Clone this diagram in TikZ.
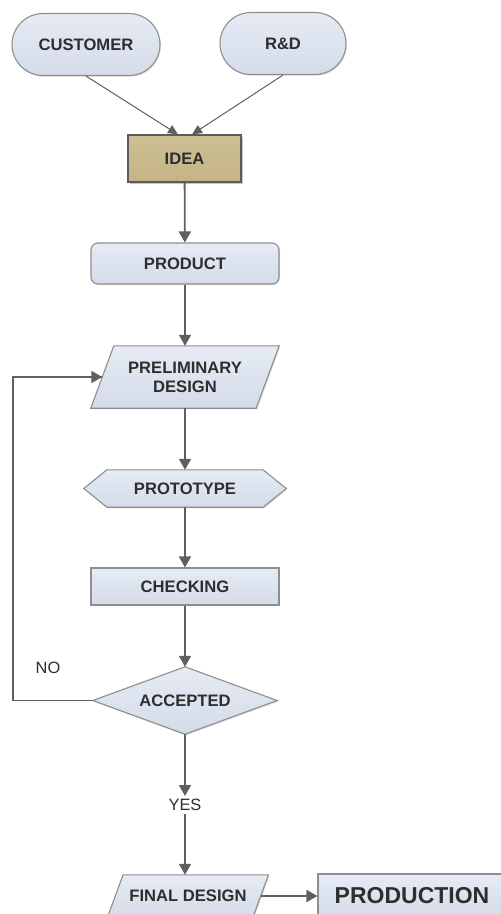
\documentclass[tikz,border=0pt]{standalone}
\usepackage{fontspec}
\setmainfont{Liberation Sans}
\usetikzlibrary{arrows.meta,shadows,backgrounds}

\definecolor{boxtop}{HTML}{E6EBF4}
\definecolor{boxbot}{HTML}{D4DCE9}
\definecolor{boxline}{HTML}{8E8E8E}
\definecolor{ideatop}{HTML}{CFC196}
\definecolor{ideabot}{HTML}{C3B384}
\definecolor{ideaedge}{HTML}{5C5C5C}
\definecolor{wire}{HTML}{5F5F5F}
\definecolor{ink}{HTML}{2E2E2E}

\begin{document}
\begin{tikzpicture}[x=1pt,y=-1pt,
  lbl/.style={font=\fontsize{16.6}{19}\selectfont\bfseries, text=ink, align=center, inner sep=0pt},
  plain/.style={font=\fontsize{16.4}{19}\selectfont, text=ink, inner sep=3pt},
  skin/.style={top color=boxtop, bottom color=boxbot, draw=boxline, line width=1.1pt,
    drop shadow={shadow xshift=1pt, shadow yshift=-1.2pt, opacity=0.25}},
  stadium/.style={lbl, skin, rectangle, minimum width=#1, minimum height=62pt, rounded corners=31pt},
  roundbox/.style={lbl, skin, rectangle, minimum width=188pt, minimum height=41pt, rounded corners=7pt},
  sqbox/.style={lbl, skin, rectangle, minimum width=188pt, minimum height=#1},
  ideabox/.style={lbl, rectangle, top color=ideatop, bottom color=ideabot, draw=ideaedge,
    line width=1.1pt, minimum width=113pt, minimum height=47pt,
    drop shadow={shadow xshift=1.5pt, shadow yshift=-1.5pt, opacity=0.45}},
  frame/.style={lbl, rectangle, minimum width=#1},
  flow/.style={draw=wire, line width=1.8pt, -{Triangle[length=11pt, width=12pt]}},
  thinflow/.style={draw=wire, line width=1pt, -{Triangle[length=10pt, width=9pt]}},
  loopline/.style={draw=wire, line width=1.8pt}
]
\useasboundingbox (0,0) rectangle (501,914);
\clip (0,0) rectangle (501,914);

% sources and idea
\node[stadium=148pt] (cust) at (86,44.5) {CUSTOMER};
\node[stadium=126pt] (rd) at (283,43.5) {R\&D};
\node[ideabox] (idea) at (184.5,158.5) {IDEA};

% main chain
\node[roundbox] (prod) at (185,263.5) {PRODUCT};
\node[frame=165pt, minimum height=62pt] (pre) at (185,377) {PRELIMINARY\\DESIGN};
\node[frame=202pt, minimum height=37pt] (proto) at (185,488.5) {PROTOTYPE};
\node[sqbox=37pt] (chk) at (185,586.5) {CHECKING};
\node[frame=184pt, minimum height=67pt] (acc) at (185,700.5) {ACCEPTED};
\node[plain] (yes) at (185,805) {YES};
\node[plain] (no) at (48,668) {NO};
\node[frame=145pt, minimum height=42pt] (fin) at (188,896) {FINAL DESIGN};
\node[sqbox=44pt, font=\fontsize{23}{26}\selectfont\bfseries] (out) at (412,896) {PRODUCTION};

% outlines of the non-rectangular shapes
\begin{scope}[on background layer]
  \path[skin] ([xshift=11.5pt]pre.north west) -- ([xshift=11.5pt]pre.north east)
    -- ([xshift=-11.5pt]pre.south east) -- ([xshift=-11.5pt]pre.south west) -- cycle;
  \path[skin] (proto.west) -- ([xshift=23pt]proto.north west) -- ([xshift=-23pt]proto.north east)
    -- (proto.east) -- ([xshift=-23pt]proto.south east) -- ([xshift=23pt]proto.south west) -- cycle;
  \path[skin] (acc.north) -- (acc.east) -- (acc.south) -- (acc.west) -- cycle;
  \path[skin] ([xshift=7.8pt]fin.north west) -- ([xshift=7.8pt]fin.north east)
    -- ([xshift=-7.8pt]fin.south east) -- ([xshift=-7.8pt]fin.south west) -- cycle;
\end{scope}

% connectors
\draw[thinflow] (cust.south) -- ([xshift=-6.5pt]idea.north);
\draw[thinflow] (rd.south) -- ([xshift=7.5pt]idea.north);
\draw[flow] (idea) -- (prod);
\draw[flow] (prod) -- (pre);
\draw[flow] (pre) -- (proto);
\draw[flow] (proto) -- (chk);
\draw[flow] (chk) -- (acc);
\draw[flow] (acc.south) -- (yes.north);
\draw[flow] (yes.south) -- (yes |- fin.north);
\draw[flow] (fin.east) -- (out.west);
\coordinate (back) at (13,700.5);
\draw[loopline] (acc.west) -- (back) |- (pre.west);
\draw[flow] ([xshift=-12pt]pre.west) -- (pre.west);
\end{tikzpicture}
\end{document}
